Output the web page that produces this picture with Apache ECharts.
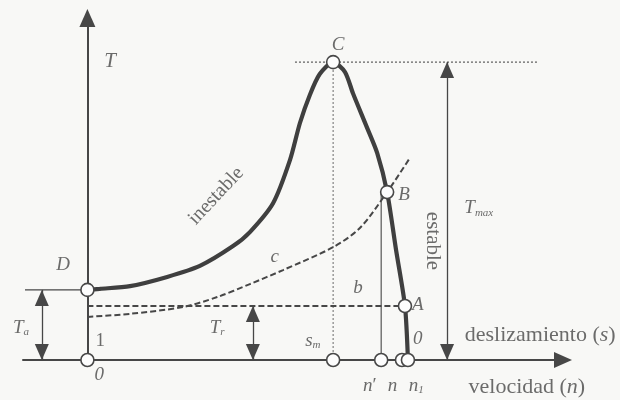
<!DOCTYPE html>
<html>
<head>
<meta charset="utf-8">
<script src="https://cdn.jsdelivr.net/npm/echarts@6/dist/echarts.min.js"></script>
<style>
  html, body { margin: 0; padding: 0; background: #f8f8f6; }
  #chart { width: 620px; height: 400px; }
</style>
</head>
<body>
<div id="chart"></div>
<script>
// values, arbitrary units: speed n (x) and torque T (y)
const motorN = [0, 2.5, 8.6, 16.1, 22.7, 29.4, 32.8, 37.5, 40.9, 42.9, 44.9, 46.9, 49.6, 52.0, 53.6, 56.4, 58.5, 60.5, 62.3, 64.1, 64.7]
const motorT = [20.5, 20.8, 21.6, 24.3, 27.5, 33.3, 37.4, 45.9, 58.5, 69.3, 77.5, 83.6, 87.1, 84.2, 78.0, 68.1, 60.5, 49.1, 32.2, 15.8, 0]

// load torque c (rising) and b (constant)
const loadCN = [0, 8.6, 19.3, 26.2, 32.8, 39.5, 49.6, 55.0, 60.5, 65.1]
const loadCT = [12.6, 13.5, 15.5, 18.4, 22.2, 26.3, 33.0, 38.6, 49.1, 59.1]
const loadBN = [0, 64.1]
const loadBT = [15.8, 15.8]

// marked points: 0, D, C, B, A, s_m, n', n, n1
const pointN = [0, 0, 49.6, 60.5, 64.1, 49.6, 59.3, 63.5, 64.7]
const pointT = [0, 20.5, 87.1, 49.1, 15.8, 0, 0, 0, 0]

const Tstart = 20.5
const Tmax = 87.1
const Tr = 15.8
const nC = 49.6
const TB = 49.1

const ink = '#474747'
const serif = 'Liberation Serif'

const zip = (xs, ys) => xs.map((x, i) => [x, ys[i]])

// annotations (data coords)
const notes = [
  { text: '{i|T}', n: 4.6, t: 87.2, size: 21 },
  { text: '{i|C}', n: 50.6, t: 92.1 },
  { text: '{i|D}', n: -4.9, t: 27.8 },
  { text: '{i|B}', n: 63.9, t: 48.2 },
  { text: '{i|A}', n: 66.7, t: 16.1 },
  { text: 'inestable', n: 26.0, t: 48.0, rotate: 47, size: 20 },
  { text: '{i|c}', n: 37.8, t: 30.1 },
  { text: '{i|b}', n: 54.6, t: 21.1 },
  { text: 'estable', n: 69.6, t: 34.8, rotate: -90, size: 21 },
  { text: '{i|T}{sub|max}', n: 79.0, t: 44.4 },
  { text: '{i|T}{sub|a}', n: -13.4, t: 9.4 },
  { text: '{i|T}{sub|r}', n: 26.2, t: 9.4 },
  { text: '1', n: 2.6, t: 5.6 },
  { text: '{i|0}', n: 2.4, t: -4.4 },
  { text: '{i|s}{sub|m}', n: 45.5, t: 5.6 },
  { text: '{i|0}', n: 66.7, t: 6.2 },
  { text: 'deslizamiento ({i|s})', n: 91.4, t: 7.3, size: 22 },
  { text: 'velocidad ({i|n})', n: 88.7, t: -7.9, size: 22 },
  { text: "{i|n}\u2032", n: 57.0, t: -7.6 },
  { text: '{i|n}', n: 61.6, t: -7.6 },
  { text: '{i|n}{sub|1}', n: 66.4, t: -7.6 }
]

const richFor = size => ({
  i: { fontFamily: serif, fontStyle: 'italic', fontSize: size, color: ink },
  sub: { fontFamily: serif, fontStyle: 'italic', fontSize: 11, color: ink, padding: [9, 0, 0, 0] }
})

const arrowLine = (x, y0, y1) => ({
  type: 'line',
  data: [],
  markLine: {
    silent: true,
    symbol: ['triangle', 'triangle'],
    symbolSize: [14, 16],
    symbolOffset: [[0, 8], [0, 8]],
    label: { show: false },
    lineStyle: { color: ink, width: 1.3, type: 'solid' },
    data: [[{ coord: [x, y0] }, { coord: [x, y1] }]]
  }
})

const chart = echarts.init(document.getElementById('chart'))
chart.setOption({
  backgroundColor: '#f8f8f6',
  animation: false,
  grid: { left: 23, right: 57, top: 18, bottom: 40 },
  xAxis: {
    type: 'value', min: -13, max: 96,
    axisLine: { onZero: true, symbol: ['none', 'triangle'], symbolSize: [16, 18], lineStyle: { color: ink, width: 2 } },
    axisTick: { show: false }, axisLabel: { show: false }, splitLine: { show: false }
  },
  yAxis: {
    type: 'value', min: 0, max: 100,
    axisLine: { onZero: true, symbol: ['none', 'triangle'], symbolSize: [16, 18], lineStyle: { color: ink, width: 2 } },
    axisTick: { show: false }, axisLabel: { show: false }, splitLine: { show: false }
  },
  series: [
    // guide lines
    { type: 'line', data: [[41.9, Tmax], [91.0, Tmax]], symbol: 'none', lineStyle: { color: '#666', width: 1.3, type: [2, 2] } },
    { type: 'line', data: [[nC, 0], [nC, Tmax]], symbol: 'none', lineStyle: { color: '#777', width: 1.1, type: [2, 2] } },
    { type: 'line', data: [[pointN[6], 0], [pointN[6], TB]], symbol: 'none', lineStyle: { color: '#555', width: 1.2 } },
    { type: 'line', data: [[-12.6, Tstart], [0, Tstart]], symbol: 'none', clip: false, lineStyle: { color: ink, width: 1.3 } },
    // dimension arrows
    arrowLine(-9.2, 0, Tstart),
    arrowLine(33.4, 0, Tr),
    arrowLine(72.6, 0, Tmax),
    // load curves
    { type: 'line', data: zip(loadBN, loadBT), symbol: 'none', lineStyle: { color: ink, width: 2, type: [6, 3] } },
    { type: 'line', data: zip(loadCN, loadCT), symbol: 'none', smooth: 0.3, lineStyle: { color: ink, width: 2, type: [6, 3] } },
    // motor torque curve
    { type: 'line', data: zip(motorN, motorT), symbol: 'none', smooth: 0.25, lineStyle: { color: '#3f3f3f', width: 4.2 } },
    // marked points
    {
      type: 'scatter', data: zip(pointN, pointT), clip: false,
      symbol: 'circle', symbolSize: 13,
      itemStyle: { color: '#fdfdfd', opacity: 1, borderColor: ink, borderWidth: 1.6 }, z: 5
    },
    // text
    {
      type: 'scatter', clip: false, symbolSize: 1, silent: true, z: 6,
      itemStyle: { color: 'transparent' },
      data: notes.map(d => ({
        value: [d.n, d.t],
        label: {
          show: true, position: 'inside', formatter: d.text, rotate: d.rotate || 0,
          fontFamily: serif, fontSize: d.size || 19, color: ink,
          rich: richFor(d.size || 19)
        }
      }))
    }
  ]
})
</script>
</body>
</html>
